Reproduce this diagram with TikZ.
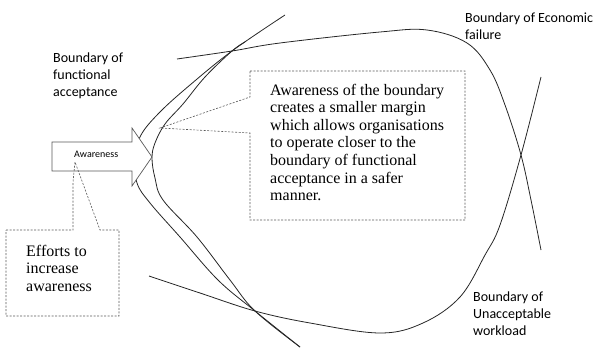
\documentclass[tikz,border=0pt]{standalone}
\usepackage{fontspec}
\setmainfont{Liberation Serif}
\newfontfamily\labelfont{Carlito}
\begin{document}
\begin{tikzpicture}[x=1pt,y=-1pt,
  boundary/.style={line width=0.8pt, draw=black!85},
  callout/.style={draw=black!65, line width=0.6pt, dash pattern=on 2pt off 1.5pt},
  arrowbody/.style={draw=black!65, line width=0.7pt, fill=white},
  label/.style={font=\labelfont\fontsize{14}{17}\selectfont, align=left, anchor=base west, inner sep=0pt},
  note/.style={font=\fontsize{16}{17.6}\selectfont, align=left, anchor=base west, inner sep=0pt},
]
\useasboundingbox (0,0) rectangle (595,348);

% boundary of functional acceptance (outer and inner)
\draw[boundary] plot[smooth, tension=0.6] coordinates {(285,15) (232,51) (190,85) (160,112) (141,135) (135,158) (137,183) (150,203) (180,237) (218,280) (255,311) (300,347)};
\draw[boundary] plot[smooth, tension=0.6] coordinates {(245,42) (232,51) (205,77) (183,104) (165,124) (155,143) (152,158) (155,178) (163,200) (197,237) (230,280) (255,311) (300,347)};

% boundary of unacceptable workload
\draw[boundary] plot[smooth, tension=0.6] coordinates {(149,276) (200,293) (255,311) (310,323) (380,333) (423,323) (460,297) (485,255) (500,225) (521,155) (541,77)};

% boundary of economic failure
\draw[boundary] plot[smooth, tension=0.6] coordinates {(177,59) (232,51) (280,43) (380,32) (427,30) (467,43) (490,70) (505,105) (521,155) (531,200) (541,250)};

% awareness arrow
\draw[arrowbody] (52,142) -- (132,142) -- (132,128) -- (152,157) -- (132,186) -- (132,171) -- (52,171) -- cycle;
\node[font=\labelfont\fontsize{10}{12}\selectfont, anchor=base west, inner sep=0pt] (aware) at (74,157) {Awareness};

% callout about the smaller margin (anchor is the baseline of the last line)
\draw[callout] (250,71) -- (465,71) -- (465,220) -- (250,220) -- (250,133) -- (160,128) -- (250,97) -- cycle;
\node[note] (margin) at (270,200.6) {Awareness of the boundary\\creates a smaller margin\\which allows organisations\\to operate closer to the\\boundary of functional\\acceptance in a safer\\manner.};

% callout about efforts
\draw[callout] (6,230) -- (73,230) -- (73,182) -- (75,162) -- (100,230) -- (119,230) -- (119,316) -- (6,316) -- cycle;
\node[note, font=\fontsize{16}{17.5}\selectfont] (efforts) at (26,291) {Efforts to\\increase\\awareness};

% boundary labels
\node[label] (functional) at (53,96) {Boundary of\\functional\\acceptance};
\node[label] (economic) at (465,39) {Boundary of Economic\\failure};
\node[label] (workload) at (473,335) {Boundary of\\Unacceptable\\workload};
\end{tikzpicture}
\end{document}
